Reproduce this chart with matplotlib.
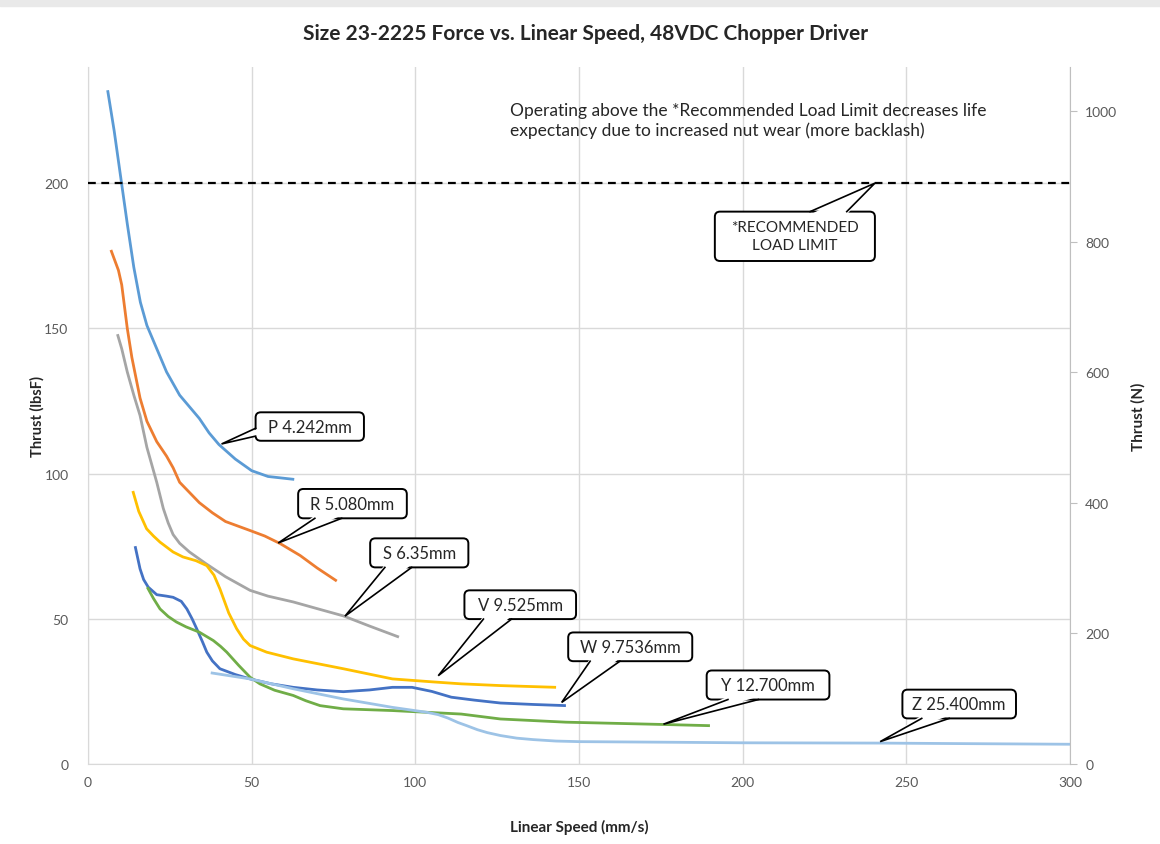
#!/usr/bin/env python3
"""Force vs linear speed chart for the size 23-2225 actuator"""
import matplotlib
matplotlib.use('Agg')
import matplotlib.pyplot as plt
from matplotlib.patches import Rectangle, FancyBboxPatch, Polygon

plt.rcParams['font.family'] = ['Lato', 'DejaVu Sans']

LBF_TO_N = 4.448

# speed (mm/s) and thrust (lbsF)
p_speed = [6, 8, 10, 12, 14, 16, 18, 21, 24, 26, 28, 31, 34, 37, 40, 45, 50, 55, 63]
p_thrust = [232, 218, 202, 186, 171, 159, 151, 143, 135, 131, 127, 123, 119, 114, 110,
            105, 101, 99, 98]

r_speed = [7, 9.3, 10.3, 12, 13.4, 15.9, 18, 21, 24, 26, 28, 31, 34, 38, 42, 49.5,
           54, 58.7, 64.8, 70, 76]
r_thrust = [177, 170, 165, 150, 140, 126, 118, 111, 106, 102, 97, 93.5, 90, 86.5, 83.5,
            80.4, 78.5, 75.9, 71.8, 67.5, 63]

s_speed = [9, 10.3, 12, 14, 15.9, 18, 21, 23, 24.5, 26, 28, 31, 36, 42, 49.5, 55,
           62.7, 70, 78, 86, 95]
s_thrust = [148, 143, 135, 127, 120, 109, 97, 88, 83, 79, 76, 73, 69, 64.5, 59.8, 57.8,
            55.8, 53.5, 51, 47.5, 43.7]

v_speed = [13.7, 15.5, 17.9, 20, 22, 26, 29, 33, 36.3, 38.5, 40.3, 43, 45.4, 47.5,
           49.5, 54.6, 62.7, 78, 93, 105, 114, 126, 143]
v_thrust = [94, 87, 81, 78.5, 76.4, 73, 71.3, 70, 68.3, 65, 60.3, 52, 46.6, 43, 40.8,
            38.5, 36.2, 32.8, 29.3, 28.3, 27.6, 27, 26.4]

w_speed = [14.4, 15.9, 17, 18.4, 21, 24, 26, 28.5, 30.2, 31.8, 33.2, 35, 36.3, 38,
           40.3, 45, 49.5, 56, 62.7, 70, 78, 86, 93, 99, 105, 111, 118, 126, 136, 146]
w_thrust = [75, 67.2, 63.5, 60.9, 58.3, 57.8, 57.4, 56, 53.4, 50, 46.6, 42, 38.5, 35.5,
            32.8, 30.8, 29.3, 27.6, 26.4, 25.5, 24.9, 25.5, 26.4, 26.4, 25, 23, 22, 21,
            20.5, 20.1]

y_speed = [18.1, 20, 22, 24.5, 27, 30, 34, 38.3, 40.5, 42.4, 46, 49.5, 52.5, 57, 62.7,
           66.5, 70.9, 78, 93, 114, 126, 146, 176, 190]
y_thrust = [60.9, 57, 53.4, 50.8, 48.9, 47.2, 45.4, 42.5, 40.5, 38.5, 34, 29.9, 27.6,
            25.4, 23.6, 21.8, 20.1, 19, 18.4, 17.2, 15.5, 14.4, 13.6, 13.2]

z_speed = [37.5, 49.5, 62.7, 78, 93, 103.5, 107, 110, 113, 115.7, 119, 122, 126, 131,
           136, 143, 150, 177, 200, 242, 270, 300]
z_thrust = [31.4, 29.3, 25.9, 22.4, 19.5, 17.8, 17, 15.8, 14.3, 13.2, 11.8, 10.8, 9.8,
            8.9, 8.4, 7.9, 7.7, 7.5, 7.3, 7.2, 7.0, 6.8]

curve_names = ['P 4.242mm', 'R 5.080mm', 'S 6.35mm', 'V 9.525mm',
               'W 9.7536mm', 'Y 12.700mm', 'Z 25.400mm']
curve_colors = ['#5B9BD5', '#ED7D31', '#A5A5A5', '#FFC000',
                '#4472C4', '#70AD47', '#9DC3E6']
curves = [(p_speed, p_thrust), (r_speed, r_thrust), (s_speed, s_thrust),
          (v_speed, v_thrust), (w_speed, w_thrust), (y_speed, y_thrust),
          (z_speed, z_thrust)]

# callouts: box (x0, x1, y0, y1), the two wedge base points on the box edge, tip
label_box = [(51.2, 84.3, 111.3, 121.1), (64.2, 97.4, 84.6, 94.7),
             (86.2, 116.2, 67.7, 77.7), (115.0, 149.1, 49.9, 59.8),
             (146.7, 184.6, 35.4, 45.3), (189.0, 226.5, 22.2, 32.2),
             (248.8, 283.5, 15.7, 25.6)]
label_base = [((51.2, 115.6), (51.2, 112.9)), ((69.3, 84.6), (77.5, 84.6)),
              ((90.7, 67.7), (98.9, 67.7)), ((120.8, 49.9), (129.4, 49.9)),
              ((153.4, 35.4), (162.5, 35.4)), ((195.5, 22.2), (204.8, 22.2)),
              ((254.7, 15.7), (263.1, 15.7))]
label_tip = [(40.8, 110.2), (58.1, 76.1), (78.5, 50.9), (107.0, 30.4),
             (144.7, 21.2), (175.8, 13.7), (242.0, 7.7)]
label_inward = [(1.0, 0), (0, 1.0), (0, 1.0), (0, 1.0), (0, 1.0), (0, 1.0), (0, 1.0)]

load_limit = 200
limit_label = '*RECOMMENDED\nLOAD LIMIT'
limit_box = (191.5, 240.4, 173.2, 190.2)
limit_base = ((220.6, 190.2), (231.8, 190.2))
limit_tip = (240.4, 200)

note_text = ('Operating above the *Recommended Load Limit decreases life\n'
             'expectancy due to increased nut wear (more backlash)')


def callout(ax, text, box, base, tip, inward, size=12):
    """rounded box with a wedge pointing at tip, like an excel callout"""
    x0, x1, y0, y1 = box
    ax.add_patch(FancyBboxPatch((x0, y0), x1 - x0, y1 - y0,
                                boxstyle='round,pad=0,rounding_size=1.6',
                                mutation_aspect=1.12, fc='white', ec='black',
                                lw=1.4, zorder=6))
    (bx1, by1), (bx2, by2) = base
    dx, dy = inward
    # white wedge hides the box border where it joins
    ax.add_patch(Polygon([(bx1 + dx, by1 + dy), (bx2 + dx, by2 + dy), tip],
                         closed=True, fc='white', ec='none', zorder=7))
    ax.plot([bx1, tip[0], bx2], [by1, tip[1], by2], color='black', lw=1.2,
            solid_joinstyle='miter', zorder=8)
    ax.text((x0 + x1) / 2, (y0 + y1) / 2, text, ha='center', va='center',
            fontsize=size, color='#262626', linespacing=1.35, zorder=9)


fig = plt.figure(figsize=(11.6, 8.45), dpi=100)
fig.patches.append(Rectangle((0, 1 - 7 / 845), 1, 7 / 845, transform=fig.transFigure,
                             color='#E9E9E9', zorder=-1))
ax = fig.add_axes([88 / 1160, 80 / 845, 982 / 1160, 697 / 845])

for (xs, ys), col in zip(curves, curve_colors):
    ax.plot(xs, ys, color=col, lw=2.0, solid_capstyle='butt',
            solid_joinstyle='round', zorder=3)

ax.axhline(load_limit, color='black', lw=1.6, ls=(0, (3.5, 2.5)), zorder=4)

ax.set_xlim(0, 300)
ax.set_ylim(0, 240)
ax.set_xticks(range(0, 301, 50))
ax.set_yticks(range(0, 201, 50))
ax.grid(True, color='#D9D9D9', lw=1.0)
ax.set_axisbelow(True)
for side in ['top', 'right']:
    ax.spines[side].set_visible(False)
for side in ['left', 'bottom']:
    ax.spines[side].set_color('#D9D9D9')
ax.tick_params(length=0, labelsize=10, labelcolor='#595959')
ax.tick_params(axis='x', pad=9)
ax.tick_params(axis='y', pad=14)
ax.set_xlabel('Linear Speed (mm/s)', fontsize=11, fontweight='bold', color='#262626',
              labelpad=22)
ax.set_ylabel('Thrust (lbsF)', fontsize=10.5, fontweight='bold', color='#262626',
              labelpad=0)

ax2 = ax.twinx()
ax2.set_ylim(0, 240 * LBF_TO_N)
ax2.set_yticks(range(0, 1001, 200))
for side in ['top', 'left', 'bottom']:
    ax2.spines[side].set_visible(False)
ax2.spines['right'].set_color('#BFBFBF')
ax2.tick_params(length=5, color='#BFBFBF', labelsize=10, labelcolor='#595959', pad=6)
ax2.set_ylabel('Thrust (N)', fontsize=11, fontweight='bold', color='#262626',
               rotation=90, labelpad=10)

for name, box, base, tip, inward in zip(curve_names, label_box, label_base,
                                        label_tip, label_inward):
    callout(ax, name, box, base, tip, inward)
callout(ax, limit_label, limit_box, limit_base, limit_tip, (0, -1.0), size=11)

ax.text(129, 228, note_text, ha='left', va='top', fontsize=12.5, color='#262626',
        linespacing=1.3, zorder=5)

fig.text(0.505, 0.96, 'Size 23-2225 Force vs. Linear Speed, 48VDC Chopper Driver',
         ha='center', va='center', fontsize=15, fontweight='bold', color='#262626')

fig.savefig('out.png', dpi=100)
